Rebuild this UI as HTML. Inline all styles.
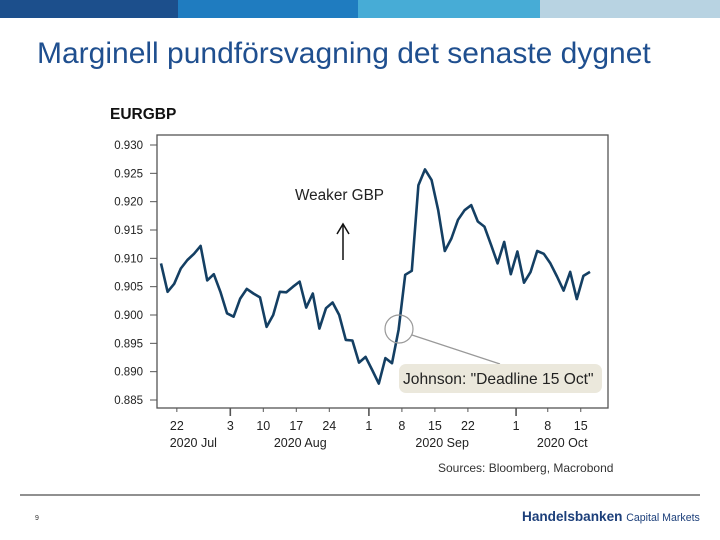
<!DOCTYPE html>
<html><head><meta charset="utf-8"><style>
body{margin:0;width:720px;height:540px;background:#fff;overflow:hidden;position:relative;font-family:"Liberation Sans",Arial,sans-serif}
.bar{position:absolute;top:0;height:18px}
</style></head><body>
<div class="bar" style="left:0;width:178px;background:#1c4f8c"></div>
<div class="bar" style="left:178px;width:180px;background:#1f7cc0"></div>
<div class="bar" style="left:358px;width:182px;background:#47acd6"></div>
<div class="bar" style="left:540px;width:180px;background:#b8d3e2"></div>
<div style="position:absolute;left:37px;top:37px;font-size:30px;color:#1f4f8f;white-space:nowrap">Marginell pundförsvagning det senaste dygnet</div>
<svg width="720" height="540" style="position:absolute;left:0;top:0" id="svg">
<text x="110" y="119" font-size="15.5" font-weight="bold" fill="#111">EURGBP</text>
<rect x="157" y="135" width="451" height="273" fill="none" stroke="#555" stroke-width="1.3"/>
<g id="ax"></g>
<path id="line" fill="none" stroke="#143f63" stroke-width="2.6" stroke-linejoin="round"/>
<text x="295" y="200" font-size="15.3" fill="#222">Weaker GBP</text>
<g stroke="#111" stroke-width="1.5" fill="none"><line x1="343" y1="260" x2="343" y2="225"/><polyline points="337,234 343,224 349,234"/></g>
<circle cx="399" cy="329" r="14" fill="none" stroke="#999" stroke-width="1.2"/>
<line x1="412" y1="335" x2="500" y2="364" stroke="#999" stroke-width="1.2"/>
<rect x="399" y="364" width="203" height="29" rx="7" fill="#ebe8dc"/>
<text x="403" y="384" font-size="15.6" fill="#222">Johnson: "Deadline 15 Oct"</text>
<text x="438" y="472" font-size="12" fill="#333">Sources: Bloomberg, Macrobond</text>
<line x1="20" y1="495" x2="700" y2="495" stroke="#222" stroke-width="1"/>
<text x="35" y="520" font-size="7" fill="#333">9</text>
<text x="522" y="521" font-size="13.6" font-weight="bold" fill="#1c3f7a">Handelsbanken <tspan font-size="10.6" font-weight="normal">Capital Markets</tspan></text>
</svg>
<script>
const values=[0.9091,0.9041,0.9055,0.9082,0.9097,0.9108,0.9122,0.9061,0.9072,0.9041,0.9003,0.8997,0.9029,0.9046,0.9038,0.9031,0.8979,0.9000,0.9041,0.9040,0.9050,0.9059,0.9013,0.9038,0.8976,0.9012,0.9022,0.9000,0.8956,0.8955,0.8916,0.8926,0.8903,0.8879,0.8924,0.8915,0.8974,0.9071,0.9078,0.9229,0.9257,0.9238,0.9185,0.9113,0.9135,0.9168,0.9185,0.9194,0.9165,0.9156,0.9124,0.9091,0.9129,0.9072,0.9112,0.9057,0.9076,0.9113,0.9108,0.9091,0.9068,0.9043,0.9076,0.9028,0.9069,0.9076];
const yTicks=[0.930,0.925,0.920,0.915,0.910,0.905,0.900,0.895,0.890,0.885];
const xTickIdx=[2.4,10.5,15.5,20.5,25.5,31.5,36.5,41.5,46.5,53.8,58.6,63.6];
const xTickLabels=["22","3","10","17","24","1","8","15","22","1","8","15"];
const xMajor=[false,true,false,false,false,true,false,false,false,true,false,false];
const monthIdx=[4.9,21.1,42.6,60.8];
const monthLabels=["2020 Jul","2020 Aug","2020 Sep","2020 Oct"];
const X=i=>161+i*6.6;
const Y=v=>145+(0.930-v)/0.045*255;
const NS="http://www.w3.org/2000/svg";
const ax=document.getElementById('ax');
function mk(tag,attrs,txt){const e=document.createElementNS(NS,tag);for(const k in attrs)e.setAttribute(k,attrs[k]);if(txt!=null)e.textContent=txt;ax.appendChild(e);return e;}
yTicks.forEach(v=>{
 const t=mk('line',{x1:150,x2:157,y1:Y(v),y2:Y(v),stroke:'#555'});
 
 
 const l=mk('text',{x:143,y:Y(v)+4,'font-size':11.5,'text-anchor':'end',fill:'#222'},v.toFixed(3));
 
 
});
xTickIdx.forEach((i,k)=>{
 const t=mk('line',{x1:X(i),x2:X(i),y1:408,y2:xMajor[k]?416:412,stroke:'#555','stroke-width':xMajor[k]?1.6:1});
 
 
 const l=mk('text',{x:X(i),y:430,'font-size':12.5,'text-anchor':'middle',fill:'#222'},xTickLabels[k]);
 
 
});
monthIdx.forEach((i,k)=>{
 const l=mk('text',{x:X(i),y:447,'font-size':12.5,'text-anchor':'middle',fill:'#222'},monthLabels[k]);
 
 
});
document.getElementById('line').setAttribute('d',values.map((v,i)=>(i?'L':'M')+X(i).toFixed(1)+','+Y(v).toFixed(1)).join(''));
</script>
</body></html>
